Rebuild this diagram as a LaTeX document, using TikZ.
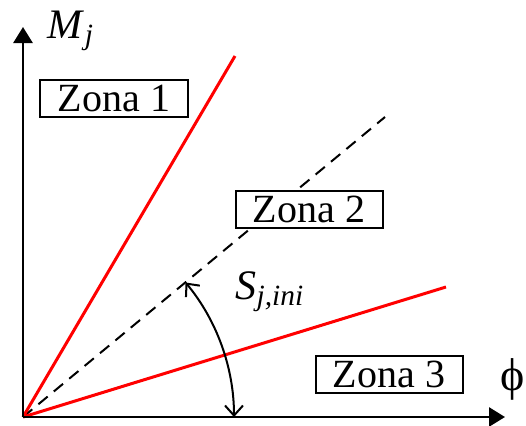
\documentclass[tikz,border=0pt]{standalone}
\usepackage{fontspec}
\setmainfont{Liberation Serif}
\usetikzlibrary{arrows.meta}
\begin{document}
\begin{tikzpicture}[x=0.5pt, y=0.5pt,
        zona/.style={draw, line width=1pt, fill=white, minimum width=73.5pt, minimum height=18.5pt, inner sep=0pt, font=\fontsize{20}{22}\selectfont},
        axis/.style={-{Triangle[length=8pt,width=9.5pt]}, line width=1.4pt},
        limit/.style={red, line width=1.5pt},
        ref/.style={dash pattern=on 6pt off 4pt, line width=1pt},
        angarrow/.style={{Straight Barb[length=5pt,width=9pt]}-{Straight Barb[length=5pt,width=9pt]}, line width=1pt},
        lbl/.style={font=\fontsize{21}{23}\selectfont, inner sep=0pt}
    ]
    \useasboundingbox (-23,-8) rectangle (503,417);
    \coordinate (O) at (0,0);
    \coordinate (ytip) at (0,390);
    \coordinate (xtip) at (482,0);
    \coordinate (l1) at (212,361);
    \coordinate (l2) at (362,300);
    \coordinate (l3) at (423,130);
    \coordinate (a0) at (0:211);

    \draw[ref] (O) -- (l2);
    \draw[limit] (O) -- (l1);
    \draw[limit] (O) -- (l3);
    \draw[axis] (O) -- (ytip);
    \draw[axis] (O) -- (xtip);
    \draw[angarrow] (a0) arc[start angle=0, end angle=39.6, radius=211];

    \node[zona] (z1) at (91,319) {Zona 1};
    \node[zona] (z2) at (286,208) {Zona 2};
    \node[zona] (z3) at (366,43) {Zona 3};
    \node[lbl] (mj) at (48,386) {\textit{M}\textsubscript{\textit{j}}};
    \node[lbl, font=\fontsize{23}{25}\selectfont] (phi) at (490,38) {ϕ};
    \node[lbl] (sj) at (247,125) {\textit{S}\textsubscript{\textit{j,ini}}};
\end{tikzpicture}
\end{document}
